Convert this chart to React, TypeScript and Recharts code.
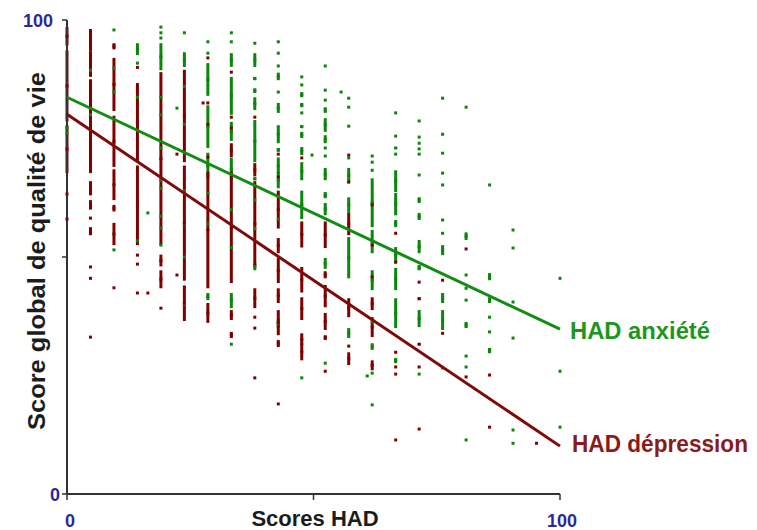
import React from 'react';
import { ScatterChart, Scatter, XAxis, YAxis, ErrorBar } from 'recharts';

// HAD raw scores (0..21) -> displayed on 0..100 scale
const hadScores = [0, 1, 2, 3, 4, 5, 6, 7, 8, 9, 10, 11, 12, 13, 14, 15, 16, 17, 18, 19, 20, 21];
const HAD_MAX = 21;

type Run = number | [number, number];

// Depression (red) observations per HAD column: single values or continuous runs [lo, hi]
const depressionCols: Run[][] = [
  [[94.6, 98.5], [78.6, 93.6], [67.7, 77.8], 63.3, 58.0],
  [[88.0, 98.1], [67.7, 87.5], [63.0, 66.0], [60.0, 62.0], 58.2, [54.6, 56.3], 47.9, 45.5, 33.1],
  [[93.8, 95.1], [80.8, 92.0], [69.0, 79.8], [62.0, 68.5], [59.6, 61.0], [52.5, 57.2], 43.5],
  [90.0, [70.0, 86.7], [52.5, 69.3], 50.4, 48.5, 42.4],
  [[52.5, 89.0], [48.0, 50.5], [43.4, 47.2], 39.2],
  [[70.0, 89.5], [45.0, 69.3], [36.5, 44.0]],
  [92.0, 82.5, 78.0, 71.1, [43.4, 68.0], [36.1, 40.3]],
  [89.0, 79.5, 77.2, [71.1, 74.0], [44.5, 68.0], [36.7, 38.8], [32.9, 34.2]],
  [79.5, [67.0, 69.8], [48.0, 66.0], [39.2, 43.4], 37.3, 35.0, 24.5],
  [71.7, 66.9, [56.0, 64.0], [50.8, 54.0], [44.5, 49.8], [40.3, 43.4], [33.5, 38.8], [31.0, 32.5], 19.0],
  [70.9, [52.0, 57.5], [42.5, 47.9], [36.7, 41.5], [31.4, 33.9], [28.2, 31.8]],
  [[51.9, 57.5], [45.5, 47.0], [39.4, 44.1], [34.6, 38.2], [32.5, 33.5], 25.9],
  [71.5, 65.8, [54.6, 59.3], [37.3, 41.3], 31.2, [27.2, 29.9]],
  [61.0, 52.5, 45.8, [38.8, 41.5], [33.1, 37.3], [26.1, 28.2]],
  [55.0, 48.9, 29.9, 26.8, 25.3, 11.4],
  [44.7, [40.9, 41.5], [31.4, 31.8], 26.8, 13.7],
  [45.1, 33.9],
  [51.7, 24.7],
  [25.1, 14.1],
  [],
  [10.7],
  [],
];

// Anxiety (green) observations per HAD column
const anxietyCols: Run[][] = [
  [77.2, 76.2],
  [93.2, 89.4, 80.0],
  [97.9, 89.8, 84.8, 51.5],
  [[92.6, 95.1], 90.9, 83.7, 53.4],
  [98.5, 97.3, 96.2, [89.4, 95.1], 83.7, 80.0, 73.0, 66.2, 64.5, 58.6, 56.1, 52.5],
  [97.3, [90.1, 93.2], 86.0, 78.0, 72.0, 64.0, 57.0, 50.0, 40.0],
  [95.4, 93.0, [84.0, 90.9], [73.0, 82.0], [66.5, 72.0], 63.5, 57.0, [40.9, 42.4]],
  [97.3, 95.4, [90.1, 93.0], [80.0, 88.0], [74.5, 78.5], [66.2, 71.0], 60.0, 52.0, [39.2, 42.4], 31.6],
  [95.1, [90.1, 93.0], [87.3, 88.0], [84.6, 85.6], [81.0, 83.7], [70.0, 78.9], [66.2, 66.8], 62.0, 56.0, [47.2, 48.7]],
  [95.4, 93.0, 90.3, [87.3, 88.9], 84.8, [80.4, 82.5], [74.0, 77.8], [72.2, 73.0], [67.5, 71.0], [64.5, 68.0], 58.0, [35.0, 37.0]],
  [88.0, 86.3, [83.7, 84.8], [81.6, 82.5], 80.4, [77.2, 77.8], [75.1, 76.4], [71.5, 73.2], [66.2, 70.0], [58.0, 64.0], 24.5],
  [90.3, 85.2, 83.1, [80.4, 81.6], [76.4, 79.3], [74.0, 75.7], 73.0, 71.3, [66.2, 68.8], [62.4, 63.7], [58.8, 61.4], [47.5, 49.8], 27.6],
  [83.5, 81.6, 77.6, 70.9, [65.6, 68.8], [59.3, 62.6], [45.5, 54.2], [32.9, 35.0]],
  [71.3, 70.0, 68.3, [56.3, 66.6], [50.8, 55.7], [43.0, 47.2], 36.3, [30.4, 31.8], 25.5, 18.8],
  [80.4, 75.5, [72.8, 73.2], 71.7, [63.7, 68.3], [58.8, 63.5], [56.3, 57.8], [48.7, 52.1], [43.0, 47.7], [35.0, 41.3], [27.6, 28.7]],
  [78.7, 75.3, 74.0, 72.8, 71.7, 67.3, [61.4, 62.6], [57.8, 59.3], [50.8, 53.6], [47.2, 48.3], [35.2, 38.8], 25.3],
  [83.5, 75.9, 71.9, 67.7, 65.2, 57.8, 55.0, [50.4, 52.5], [40.3, 42.4], [34.6, 38.8], 26.6],
  [81.6, [53.6, 55.2], 46.2, 43.4, 40.9, [35.0, 36.3], 29.1, 26.8, 11.4],
  [65.2, [45.1, 46.6], [40.3, 41.5], 37.3, 34.2, [29.7, 30.8]],
  [55.7, 51.9, 40.5, 32.9, 13.5, 10.7],
  [],
  [45.5, 25.9, 14.1],
];

// Isolated points lying between columns: [x (0-100), y]
const depressionExtra: [number, number][] = [[16.4, 42.4], [22.3, 46.2], [22.3, 71.7], [27.6, 82.5]];
const anxietyExtra: [number, number][] = [[16.4, 59.3], [22.3, 81.4], [49.7, 71.5], [55.6, 84.8], [60.9, 24.9]];

// Regression lines: values at HAD 0 and HAD 100
const lineX = [0, 100];
const anxietyFit = [83.7, 34.8];
const depressionFit = [80.1, 10.1];
const seriesNames = ['HAD anxiété', 'HAD dépression'];

const yTicks = [0, 50, 100];
const xTicks = [0, 50, 100];

const GREEN = '#0a870a';
const RED = '#800000';
const GREEN_LINE = '#138c13';
const RED_LINE = '#7e0a0a';
const FONT = '"Liberation Sans", Arial, sans-serif';

function buildPoints(cols: Run[][], extra: [number, number][]) {
  const pts: { x: number; y: number; err: number }[] = [];
  cols.forEach((runs, i) => {
    const x = (hadScores[i] / HAD_MAX) * 100;
    runs.forEach((r) => {
      const lo = typeof r === 'number' ? r : r[0];
      const hi = typeof r === 'number' ? r : r[1];
      pts.push({ x, y: (lo + hi) / 2, err: (hi - lo) / 2 });
    });
  });
  extra.forEach(([x, y]) => pts.push({ x, y, err: 0 }));
  return pts;
}

const anxietyPts = buildPoints(anxietyCols, anxietyExtra);
const depressionPts = buildPoints(depressionCols, depressionExtra);
const anxietyLine = lineX.map((x, i) => ({ x, y: anxietyFit[i], label: i === 1 ? seriesNames[0] : '' }));
const depressionLine = lineX.map((x, i) => ({ x, y: depressionFit[i], label: i === 1 ? seriesNames[1] : '' }));

const square = (color: string) => (p: any) => (
  <rect x={p.cx - 1.5} y={p.cy - 1.5} width={3} height={3} fill={color} />
);

const endLabel = (color: string, dx: number, dy: number, len: number) => (p: any) => {
  const lbl = p.payload && p.payload.label;
  if (!lbl) return <g />;
  return (
    <text
      x={p.cx + dx}
      y={p.cy + dy}
      fill={color}
      fontFamily={FONT}
      fontWeight="bold"
      fontSize={23}
      textLength={len}
      lengthAdjust="spacingAndGlyphs"
    >
      {lbl}
    </text>
  );
};

const YTick = (p: any) => {
  const v = p.payload.value;
  if (v !== 0 && v !== 100) return <g />;
  return (
    <text
      x={v === 100 ? 53 : 60}
      y={p.y + 6.5}
      textAnchor="end"
      fill="#2a2a96"
      fontFamily={FONT}
      fontWeight="bold"
      fontSize={18}
    >
      {v}
    </text>
  );
};

const XTick = (p: any) => {
  const v = p.payload.value;
  if (v !== 0 && v !== 100) return <g />;
  return (
    <text
      x={p.x + (v === 0 ? 3 : 2)}
      y={527}
      textAnchor="middle"
      fill="#2a2a96"
      fontFamily={FONT}
      fontWeight="bold"
      fontSize={18}
    >
      {v}
    </text>
  );
};

export default function App() {
  return (
    <div style={{ position: 'absolute', left: 0, top: 0, width: 757, height: 530, background: '#fff' }}>
      <ScatterChart width={757} height={530} margin={{ top: 20, right: 197, bottom: 0, left: 0 }}>
        <XAxis
          type="number"
          dataKey="x"
          domain={[0, 100]}
          ticks={xTicks}
          height={36}
          tickSize={6}
          axisLine={{ stroke: '#333', strokeWidth: 2 }}
          tickLine={{ stroke: '#333', strokeWidth: 1.5 }}
          tick={XTick}
          label={{
            content: () => (
              <text x={315} y={526} textAnchor="middle" fill="#1c1c1c" fontFamily={FONT} fontWeight="bold" fontSize={22}>
                Scores HAD
              </text>
            ),
          }}
        />
        <YAxis
          type="number"
          dataKey="y"
          domain={[0, 100]}
          ticks={yTicks}
          width={67}
          tickSize={5}
          axisLine={{ stroke: '#333', strokeWidth: 2 }}
          tickLine={{ stroke: '#333', strokeWidth: 1.5 }}
          tick={YTick}
          label={{
            content: () => (
              <text
                x={45}
                y={251}
                transform="rotate(-90, 45, 251)"
                textAnchor="middle"
                fill="#1c1c1c"
                fontFamily={FONT}
                fontWeight="bold"
                fontSize={24}
                textLength={358}
                lengthAdjust="spacingAndGlyphs"
              >
                Score global de qualité de vie
              </text>
            ),
          }}
        />
        <Scatter data={anxietyPts} fill={GREEN} shape={square(GREEN)} isAnimationActive={false}>
          <ErrorBar dataKey="err" direction="y" width={0} stroke={GREEN} strokeWidth={3} />
        </Scatter>
        <Scatter data={depressionPts} fill={RED} shape={square(RED)} isAnimationActive={false}>
          <ErrorBar dataKey="err" direction="y" width={0} stroke={RED} strokeWidth={3} />
        </Scatter>
        <Scatter
          data={anxietyLine}
          line={{ stroke: GREEN_LINE, strokeWidth: 3 }}
          shape={endLabel('#1e961e', 10, 10, 140)}
          isAnimationActive={false}
        />
        <Scatter
          data={depressionLine}
          line={{ stroke: RED_LINE, strokeWidth: 3 }}
          shape={endLabel('#8b1a1a', 12, 6, 176)}
          isAnimationActive={false}
        />
      </ScatterChart>
    </div>
  );
}
